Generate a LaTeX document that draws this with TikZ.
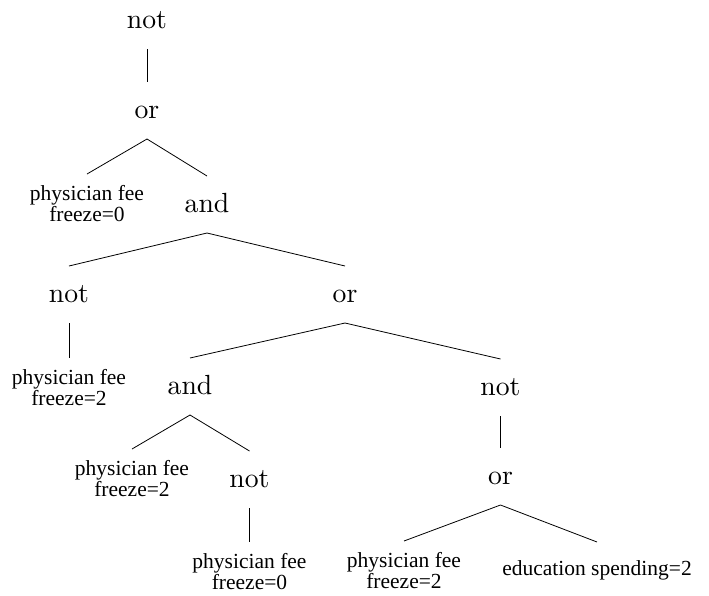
\documentclass[tikz,border=0pt]{standalone}
\usepackage{fontspec}
\newfontfamily\opfont{lmroman10-regular.otf}
\newfontfamily\leaffont{LiberationSerif-Regular.ttf}
\begin{document}
\begin{tikzpicture}[x=1pt,y=-1pt,
  every node/.style={inner sep=0pt, outer sep=0pt},
  op/.style={anchor=base, font=\opfont\fontsize{27.7}{30}\selectfont,
             text height=36pt, text depth=21pt},
  leaf/.style={anchor=north, align=center,
               font=\leaffont\fontsize{21.5}{21}\selectfont},
  edge/.style={line width=0.8pt}]
\useasboundingbox (0,0) rectangle (709,595);
\newcommand{\firstline}[1]{\rule{0pt}{#1pt}}

% operator nodes, placed by baseline
\node[op] (n1) at (147,28)  {not};
\node[op] (o1) at (147,118) {or};
\node[op] (a1) at (207,212) {and};
\node[op] (n2) at (69,302)  {not};
\node[op] (o2) at (345,302) {or};
\node[op] (a2) at (190,394) {and};
\node[op] (n3) at (500.5,395) {not};
\node[op] (n4) at (249.5,487) {not};
\node[op] (o3) at (500.5,484) {or};

% attribute tests at the leaves
\node[leaf] (l1) at (87,174)  {\firstline{26}physician fee\\freeze=0};
\node[leaf] (l2) at (69,358)  {\firstline{26}physician fee\\freeze=2};
\node[leaf] (l3) at (132,449) {\firstline{26}physician fee\\freeze=2};
\node[leaf] (l4) at (249.5,542) {\firstline{26}physician fee\\freeze=0};
\node[leaf] (l5) at (404,541) {\firstline{26}physician fee\\freeze=2};
\node[leaf] (l6) at (597,542) {\firstline{33}education spending=2};

% tree edges
\draw[edge] (n1.south) -- (o1.north);
\draw[edge] (o1.south) -- (l1.north);
\draw[edge] (o1.south) -- (a1.north);
\draw[edge] (a1.south) -- (n2.north);
\draw[edge] (a1.south) -- (o2.north);
\draw[edge] (n2.south) -- (l2.north);
\draw[edge] (o2.south) -- (a2.north);
\draw[edge] (o2.south) -- (n3.north);
\draw[edge] (a2.south) -- (l3.north);
\draw[edge] (a2.south) -- (n4.north);
\draw[edge] (n4.south) -- (l4.north);
\draw[edge] (n3.south) -- (o3.north);
\draw[edge] (o3.south) -- (l5.north);
\draw[edge] (o3.south) -- (l6.north);
\end{tikzpicture}
\end{document}
